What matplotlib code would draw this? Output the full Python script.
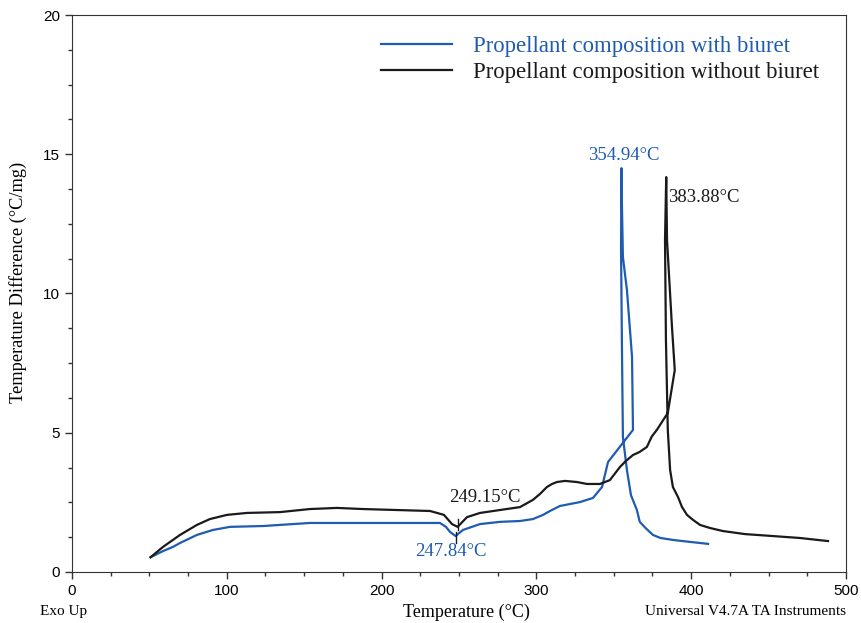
import numpy as np
import matplotlib.pyplot as plt
from matplotlib.ticker import MultipleLocator

# 數據：溫度 (°C) 與溫差 (°C/mg)
temp_with = [50.8, 58.8, 65.2, 69.8, 80.7, 91.1, 102.1, 123.4, 153.7, 188.0,
             237.7, 241.6, 244.2, 247.84, 252.6, 263.6, 276.5, 289.4, 297.8, 304.3,
             308.8, 315.2, 328.2, 336.6, 342.4, 346.3, 362.4, 361.8, 358.5, 355.9,
             355.3, 354.94, 354.7, 355.3, 355.9, 358.5, 361.1, 364.9, 366.8, 370.5,
             375.3, 380.2, 388.3, 399.2, 410.9]
diff_with = [0.53, 0.75, 0.90, 1.04, 1.33, 1.51, 1.62, 1.65, 1.76, 1.76,
             1.76, 1.62, 1.44, 1.29, 1.51, 1.72, 1.80, 1.83, 1.90, 2.05,
             2.19, 2.37, 2.51, 2.66, 3.05, 3.95, 5.10, 7.72, 10.13, 11.31,
             13.10, 14.50, 11.56, 7.97, 4.85, 3.66, 2.76, 2.23, 1.80, 1.58,
             1.33, 1.22, 1.15, 1.08, 1.01]

temp_without = [50.8, 58.8, 69.8, 80.7, 89.1, 100.1, 113.0, 134.4, 153.7, 171.2,
                188.0, 231.3, 240.3, 245.5, 249.15, 255.2, 263.6, 289.4, 297.8, 302.3,
                306.8, 310.1, 313.3, 318.5, 326.2, 332.7, 341.1, 347.5, 354.0, 357.9,
                362.4, 366.7, 371.4, 374.5, 377.8, 384.9, 389.4, 387.6, 384.4, 383.88,
                383.1, 383.7, 384.9, 386.4, 388.2, 391.5, 394.1, 397.3, 401.2, 405.7,
                412.1, 420.5, 434.8, 452.8, 470.3, 488.4]
diff_without = [0.53, 0.90, 1.33, 1.69, 1.90, 2.05, 2.12, 2.15, 2.26, 2.30,
                2.26, 2.19, 2.05, 1.72, 1.62, 1.97, 2.12, 2.33, 2.59, 2.80,
                3.05, 3.16, 3.23, 3.27, 3.23, 3.16, 3.16, 3.30, 3.77, 3.99,
                4.20, 4.31, 4.49, 4.86, 5.10, 5.71, 7.25, 8.80, 11.92, 14.18,
                11.92, 8.33, 5.10, 3.66, 3.05, 2.69, 2.33, 2.05, 1.87, 1.69,
                1.58, 1.47, 1.36, 1.29, 1.22, 1.11]

label_with = 'Propellant composition with biuret'
label_without = 'Propellant composition without biuret'

blue = '#1f5cb0'
black = '#1a1a1a'
serif = ['Liberation Serif', 'DejaVu Serif']
sans = ['Liberation Sans', 'DejaVu Sans']

fig = plt.figure(figsize=(8.62, 6.23), dpi=100)
ax = fig.add_axes([0.0835, 0.0819, 0.8979, 0.894])

ax.plot(temp_with, diff_with, color=blue, linewidth=1.6, label=label_with,
        solid_joinstyle='round')
ax.plot(temp_without, diff_without, color=black, linewidth=1.6, label=label_without,
        solid_joinstyle='round')

# 峰值標記
ax.plot([249.15, 249.15], [1.50, 1.92], color=black, linewidth=1.0)
ax.plot([247.84, 247.84], [1.04, 1.45], color=black, linewidth=1.0)

ax.text(356.6, 14.94, '354.94°C', color=blue, fontsize=13.5, family=serif,
        ha='center', va='center')
ax.text(384.8, 13.43, '383.88°C', color=black, fontsize=13.5, family=serif,
        ha='left', va='center')
ax.text(266.8, 2.69, '249.15°C', color=black, fontsize=13.5, family=serif,
        ha='center', va='center')
ax.text(244.8, 0.75, '247.84°C', color=blue, fontsize=13.5, family=serif,
        ha='center', va='center')

ax.set_xlim(0, 500)
ax.set_ylim(0, 20)
ax.xaxis.set_major_locator(MultipleLocator(100))
ax.xaxis.set_minor_locator(MultipleLocator(25))
ax.yaxis.set_major_locator(MultipleLocator(5))
ax.yaxis.set_minor_locator(MultipleLocator(1.25))
ax.tick_params(which='major', direction='out', length=5, width=1, labelsize=11,
               color='#333333')
ax.tick_params(which='minor', direction='out', length=3, width=1, color='#333333')
for lab in ax.get_xticklabels() + ax.get_yticklabels():
    lab.set_family(sans)
for sp in ax.spines.values():
    sp.set_color('#333333')

fig.text(0.021, 0.546, 'Temperature Difference (°C/mg)', fontsize=13.2, family=serif,
         rotation=90, ha='center', va='center')
fig.text(0.541, 0.0177, 'Temperature (°C)', fontsize=13, family=serif,
         ha='center', va='center')
fig.text(0.046, 0.0177, 'Exo Up', fontsize=11, family=serif, ha='left', va='center')
fig.text(0.981, 0.0177, 'Universal V4.7A TA Instruments', fontsize=11, family=serif,
         ha='right', va='center')

leg = ax.legend(loc='upper left', bbox_to_anchor=(0.3876, 0.978), frameon=False,
                borderaxespad=0, prop={'family': serif, 'size': 16.4},
                handlelength=3.1, handletextpad=0.92, labelspacing=0.21)
for txt, c in zip(leg.get_texts(), [blue, black]):
    txt.set_color(c)

fig.savefig('out.png', dpi=100)
